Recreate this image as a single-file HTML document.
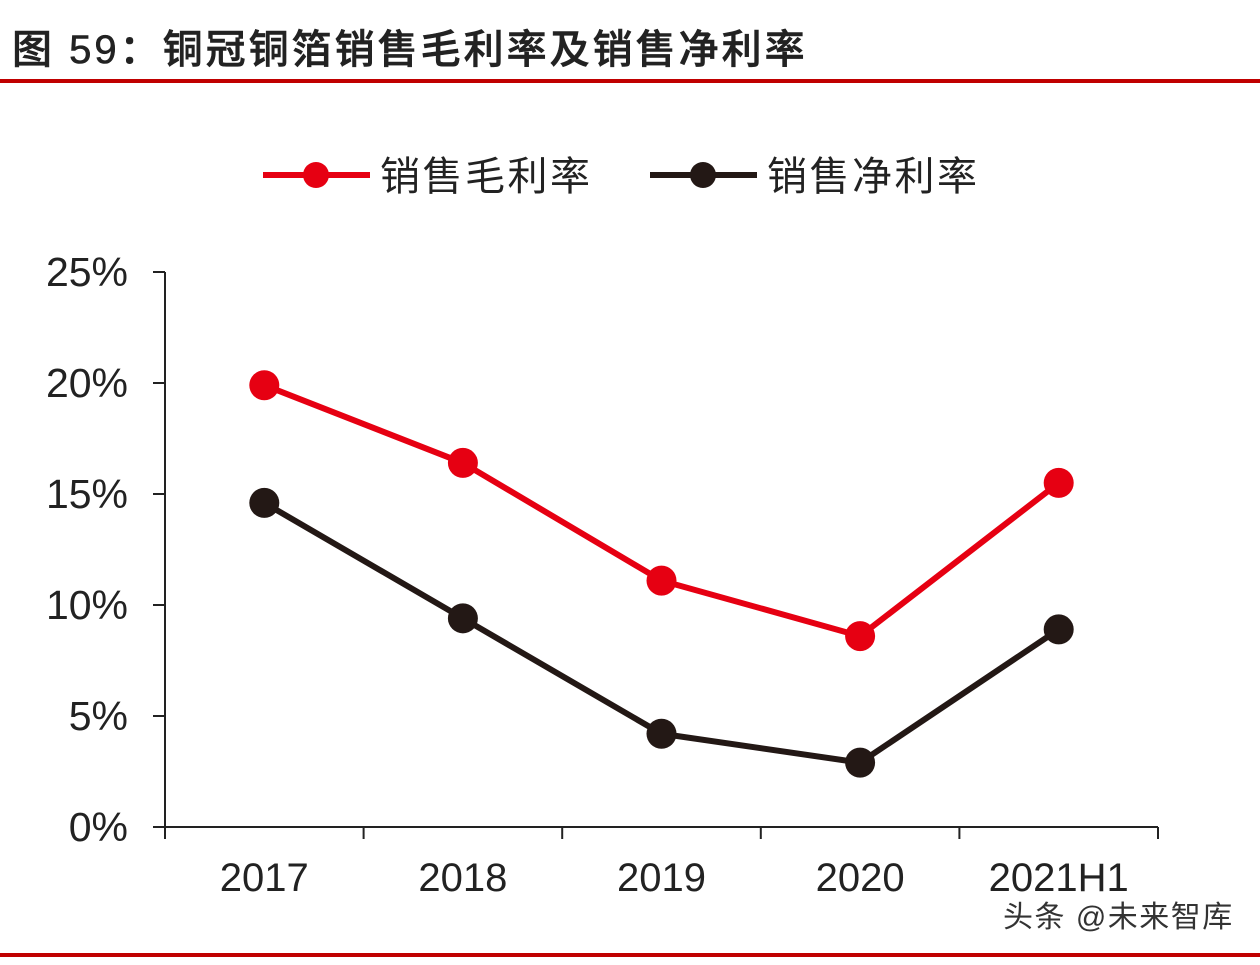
<!DOCTYPE html>
<html><head><meta charset="utf-8"><style>
body{margin:0;background:#fff;width:1260px;height:960px;overflow:hidden;font-family:"Liberation Sans","Noto Sans CJK SC",sans-serif;}
</style></head><body>
<svg width="1260" height="960">
<text x="12" y="63" font-size="40" font-weight="500" letter-spacing="3" fill="#222" stroke="#222" stroke-width="0.6" font-family="Liberation Sans, Noto Sans CJK SC, sans-serif">图 59：铜冠铜箔销售毛利率及销售净利率</text>
<rect x="0" y="79" width="1260" height="4" fill="#c00000"/>
<rect x="0" y="953" width="1260" height="4" fill="#c00000"/>
<g>
<line x1="263" y1="175" x2="370" y2="175" stroke="#e60012" stroke-width="6"/><circle cx="316" cy="175" r="13" fill="#e60012"/>
<text x="380" y="190" font-size="40" letter-spacing="2.5" fill="#222" font-family="Liberation Sans, Noto Sans CJK SC, sans-serif">销售毛利率</text>
<line x1="650" y1="175" x2="757" y2="175" stroke="#231815" stroke-width="6"/><circle cx="703" cy="175" r="13" fill="#231815"/>
<text x="767" y="190" font-size="40" letter-spacing="2.5" fill="#222" font-family="Liberation Sans, Noto Sans CJK SC, sans-serif">销售净利率</text>
</g>
<g id="axes"></g><g id="marks"></g>
<text x="1003" y="927" font-size="30" letter-spacing="1.5" fill="#333" font-family="Liberation Sans, Noto Sans CJK SC, sans-serif">头条 @未来智库</text>
</svg>
<script>
const categories=["2017","2018","2019","2020","2021H1"];
const grossMargin=[19.9,16.4,11.1,8.6,15.5];
const netMargin=[14.6,9.4,4.2,2.9,8.9];
const yTicks=[0,5,10,15,20,25];
const NS="http://www.w3.org/2000/svg";
const x0=165,x1=1158,yB=827,yT=272,yMax=25;
const bw=(x1-x0)/categories.length;
const X=i=>x0+bw*(i+0.5);
const Y=v=>yB-(v/yMax)*(yB-yT);
function mk(tag,at,parent){const e=document.createElementNS(NS,tag);for(const k in at)e.setAttribute(k,at[k]);parent.appendChild(e);return e;}
const ax=document.getElementById('axes'),mg=document.getElementById('marks');
let l=mk('line',{x1:x0,y1:yT,x2:x0,y2:yB,stroke:'#222','stroke-width':2},ax);


l=mk('line',{x1:x0,y1:yB,x2:x1,y2:yB,stroke:'#222','stroke-width':2},ax);


yTicks.forEach(v=>{mk('line',{x1:x0-12,y1:Y(v),x2:x0,y2:Y(v),stroke:'#222','stroke-width':2},ax);
const t=mk('text',{x:128,y:Y(v)+14,'text-anchor':'end','font-size':41,fill:'#222'},ax);t.textContent=v+'%';

});
for(let i=0;i<=categories.length;i++)mk('line',{x1:x0+bw*i,y1:yB,x2:x0+bw*i,y2:yB+12,stroke:'#222','stroke-width':2},ax);
categories.forEach((c,i)=>{const t=mk('text',{x:X(i),y:891,'text-anchor':'middle','font-size':40,fill:'#222'},ax);t.textContent=c;

});
function series(vals,color,name){
const p=mk('polyline',{points:vals.map((v,i)=>X(i)+','+Y(v)).join(' '),fill:'none',stroke:color,'stroke-width':6,'stroke-linejoin':'round'},mg);


vals.forEach((v,i)=>{const c=mk('circle',{cx:X(i),cy:Y(v),r:15,fill:color},mg);

});}
series(grossMargin,'#e60012','gross-margin');
series(netMargin,'#231815','net-margin');
</script>
</body></html>
